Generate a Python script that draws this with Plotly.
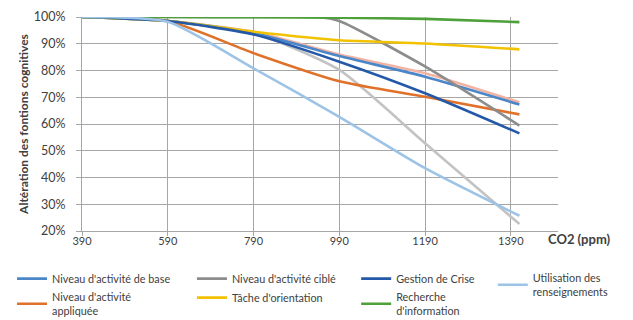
import plotly.graph_objects as go

co2 = [390, 590, 790, 990, 1190, 1410]

base = [100, 98.5, 94, 85.4, 77.7, 67.3]
appliquee = [100, 98.5, 86.5, 76, 70.2, 63.6]
cible_x = [390, 590, 790, 940, 990, 1190, 1410]
cible = [100, 100, 100, 100, 98.5, 81.5, 59.4]
orientation = [100, 98.5, 94.5, 91.3, 90.1, 87.9]
crise = [100, 98.5, 93.5, 83.3, 71.5, 56.5]
recherche = [100, 100, 99.9, 99.7, 99.3, 98.1]
utilisation = [100, 98.2, 80.8, 62.7, 43.5, 25.7]
extra_rose = [100, 98.5, 94.5, 86, 79, 68.1]
extra_gris = [100, 98.5, 94, 80.2, 52.8, 22.6]

x_ticks = [390, 590, 790, 990, 1190, 1390]
y_ticks = [20, 30, 40, 50, 60, 70, 80, 90, 100]
y_ticktext = ["20%", "30%", "40%", "50%", "60%", "70%", "80%", "90%", "100%"]

# (name, x, y, colour, legend column or None)
series = [
    ("rose", co2, extra_rose, "#F2B3A3", None),
    ("gris", co2, extra_gris, "#C3C3C3", None),
    ("Niveau d'activité de base", co2, base, "#4A86C8", "legend"),
    ("Niveau d'activité<br>appliquée", co2, appliquee, "#E0712B", "legend"),
    ("Niveau d'activité ciblé", cible_x, cible, "#8C8C8C", "legend2"),
    ("Tâche d'orientation", co2, orientation, "#F2C200", "legend2"),
    ("Gestion de Crise", co2, crise, "#2458A8", "legend3"),
    ("Recherche<br>d'information", co2, recherche, "#4EA03A", "legend3"),
    ("Utilisation des<br>renseignements", co2, utilisation, "#9DC3E6", "legend4"),
]

fig = go.Figure()
for name, xs, ys, col, leg in series:
    fig.add_trace(go.Scatter(
        x=xs, y=ys, mode="lines", name=name,
        line=dict(color=col, width=2.6, shape="spline", smoothing=0.6),
        showlegend=leg is not None,
        legend=leg if leg else "legend",
        hoverinfo="skip" if leg is None else None))

legfont = dict(size=10.8, color="#404040")
def leg(x):
    return dict(orientation="v", x=x, xanchor="left", y=-0.155, yanchor="top",
                font=legfont, tracegroupgap=0, traceorder="normal",
                bgcolor="rgba(0,0,0,0)", itemwidth=30)

fig.update_layout(
    width=633, height=320,
    margin=dict(l=82, r=75, t=17, b=89, autoexpand=False),
    paper_bgcolor="white", plot_bgcolor="white",
    font=dict(family="Lato, Liberation Sans, sans-serif", size=11, color="#404040"),
    showlegend=True,
    legend=leg(-0.147),
    legend2=leg(0.231),
    legend3=leg(0.576),
    legend4=leg(0.863),
    xaxis=dict(range=[390, 1500], tickvals=x_ticks,
               showgrid=True, gridcolor="#A6A6A6", gridwidth=1,
               showline=True, linecolor="#A6A6A6", ticks="outside", ticklen=4,
               tickcolor="#A6A6A6", zeroline=False, ticklabelstandoff=-4,
               tickfont=dict(size=11, color="#404040")),
    yaxis=dict(range=[20, 100], tickvals=y_ticks, ticktext=y_ticktext,
               showgrid=True, gridcolor="#A6A6A6", gridwidth=1,
               showline=True, linecolor="#A6A6A6", ticks="outside", ticklen=5,
               tickcolor="#A6A6A6", zeroline=False, ticklabelstandoff=8,
               title=dict(text="<b>Altération des fontions cognitives</b>",
                          font=dict(size=12, color="#404040"), standoff=2),
               tickfont=dict(size=12.5, color="#404040")),
    annotations=[dict(text="<b>CO2 (ppm)</b>", xref="paper", yref="paper",
                      x=1.0, y=0.0, xanchor="left", yanchor="top", yshift=2, xshift=-12,
                      showarrow=False, font=dict(size=13, color="#404040"))],
)

fig.write_html("out.html", config={"displayModeBar": False},
               post_script="document.body.style.margin='0';")
